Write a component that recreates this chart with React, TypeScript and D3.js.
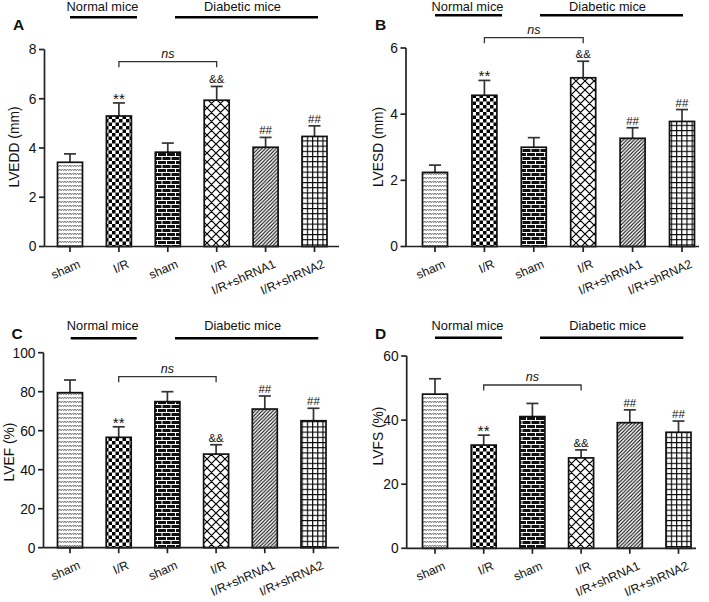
import React from "react";
import * as d3 from "d3";

const categories = ["sham", "I/R", "sham", "I/R", "I/R+shRNA1", "I/R+shRNA2"];
const marks = ["", "**", "", "&&", "##", "##"];
const groupLabels = ["Normal mice", "Diabetic mice"];

const lvedd = [3.42, 5.3, 3.83, 5.94, 4.03, 4.47];
const lveddErr = [0.34, 0.53, 0.37, 0.56, 0.4, 0.43];
const lvesd = [2.24, 4.57, 3.0, 5.1, 3.27, 3.78];
const lvesdErr = [0.22, 0.45, 0.29, 0.5, 0.32, 0.36];
const lvef = [79.5, 56.6, 74.9, 48.0, 71.1, 65.1];
const lvefErr = [6.5, 5.4, 5.1, 4.8, 6.7, 6.4];
const lvfs = [48.1, 32.2, 41.1, 28.2, 39.2, 36.2];
const lvfsErr = [4.8, 3.1, 4.1, 2.5, 4.0, 3.5];

const ticksA = [0, 2, 4, 6, 8];
const ticksB = [0, 2, 4, 6];
const ticksC = [0, 20, 40, 60, 80, 100];
const ticksD = [0, 20, 40, 60];

const FONT = "'Liberation Sans', Arial, Helvetica, sans-serif";
const patterns = ["pSham", "pCheck", "pBrick", "pDiamond", "pDiag", "pGrid"];

type Layout = {
  letter: string;
  yLabel: string;
  values: number[];
  errs: number[];
  ticks: number[];
  ymax: number;
  axisX: number;
  axisEnd: number;
  yTop: number;
  yBot: number;
  cx0: number;
  cx1: number;
  letterX: number;
  letterY: number;
  titleY: number;
  lineY: number;
  normal: [number, number];
  diabetic: [number, number];
  nsY: number;
  yLabX: number;
  yLabY: number;
};

const panels: Layout[] = [
  {
    letter: "A", yLabel: "LVEDD (mm)", values: lvedd, errs: lveddErr, ticks: ticksA, ymax: 8,
    axisX: 44.5, axisEnd: 339, yTop: 49.5, yBot: 246.5, cx0: 70, cx1: 314.5,
    letterX: 13, letterY: 29.5, titleY: 10.5, lineY: 17.3, normal: [70, 137], diabetic: [175, 318],
    nsY: 61.7, yLabX: 19, yLabY: 147,
  },
  {
    letter: "B", yLabel: "LVESD (mm)", values: lvesd, errs: lvesdErr, ticks: ticksB, ymax: 6,
    axisX: 406, axisEnd: 699, yTop: 48, yBot: 246.5, cx0: 435, cx1: 682,
    letterX: 375, letterY: 30, titleY: 10.7, lineY: 15.3, normal: [435, 502], diabetic: [540, 683],
    nsY: 37.7, yLabX: 383, yLabY: 147,
  },
  {
    letter: "C", yLabel: "LVEF (%)", values: lvef, errs: lvefErr, ticks: ticksC, ymax: 100,
    axisX: 43.5, axisEnd: 339, yTop: 352.7, yBot: 547.7, cx0: 70, cx1: 313.5,
    letterX: 11.5, letterY: 339, titleY: 330, lineY: 338.3, normal: [70.7, 136.7], diabetic: [175, 318.3],
    nsY: 376.7, yLabX: 13.5, yLabY: 452,
  },
  {
    letter: "D", yLabel: "LVFS (%)", values: lvfs, errs: lvfsErr, ticks: ticksD, ymax: 60,
    axisX: 406.7, axisEnd: 696, yTop: 356, yBot: 548.3, cx0: 435, cx1: 678.5,
    letterX: 375, letterY: 339, titleY: 330, lineY: 337.7, normal: [435, 502], diabetic: [540, 683.3],
    nsY: 385, yLabX: 383, yLabY: 436,
  },
];

const BAR_W = 25;

function Panel({ p }: { p: Layout }) {
  const y = d3.scaleLinear().domain([0, p.ymax]).range([p.yBot, p.yTop]);
  const x = d3.scalePoint<number>().domain(d3.range(categories.length)).range([p.cx0, p.cx1]);
  const ns1 = x(1)!;
  const ns3 = x(3)!;
  return (
    <g fontFamily={FONT} fill="#111">
      <text x={p.letterX} y={p.letterY} fontSize={15.5} fontWeight="bold">{p.letter}</text>
      <text x={(p.normal[0] + p.normal[1]) / 2 - 1} y={p.titleY} fontSize={12.8} textAnchor="middle">{groupLabels[0]}</text>
      <line x1={p.normal[0]} x2={p.normal[1]} y1={p.lineY} y2={p.lineY} stroke="#000" strokeWidth={2.6} />
      <text x={(p.diabetic[0] + p.diabetic[1]) / 2 - 4} y={p.titleY} fontSize={12.8} textAnchor="middle">{groupLabels[1]}</text>
      <line x1={p.diabetic[0]} x2={p.diabetic[1]} y1={p.lineY} y2={p.lineY} stroke="#000" strokeWidth={2.6} />

      {/* y axis */}
      <line x1={p.axisX} x2={p.axisX} y1={p.yTop} y2={p.yBot} stroke="#222" strokeWidth={1.7} />
      {p.ticks.map((t) => (
        <g key={t}>
          <line x1={p.axisX - 5.5} x2={p.axisX} y1={y(t)} y2={y(t)} stroke="#222" strokeWidth={1.7} />
          <text x={p.axisX - 8} y={y(t)} dy="0.36em" fontSize={13.8} textAnchor="end">{t}</text>
        </g>
      ))}
      <text transform={`translate(${p.yLabX},${p.yLabY}) rotate(-90)`} fontSize={13.8} textAnchor="middle">{p.yLabel}</text>

      {/* bars */}
      {p.values.map((v, i) => {
        const cx = x(i)!;
        const top = y(v);
        const et = y(v + p.errs[i]);
        return (
          <g key={i}>
            <line x1={cx} x2={cx} y1={top} y2={et} stroke="#333" strokeWidth={1.7} />
            <line x1={cx - 6} x2={cx + 6} y1={et} y2={et} stroke="#333" strokeWidth={1.7} />
            <rect x={cx - BAR_W / 2} y={top} width={BAR_W} height={p.yBot - top} fill={`url(#${patterns[i]})`} stroke="#111" strokeWidth={1.7} />
            {marks[i] && (
              <text x={cx} y={marks[i] === "**" ? et + 1 : et - 3} fontSize={marks[i] === "**" ? 15 : 11.5} textAnchor="middle" fill="#111">{marks[i]}</text>
            )}
          </g>
        );
      })}

      {/* x axis */}
      <line x1={p.axisX} x2={p.axisEnd} y1={p.yBot} y2={p.yBot} stroke="#222" strokeWidth={1.7} />
      {categories.map((c, i) => {
        const cx = x(i)!;
        return (
          <g key={i}>
            <line x1={cx} x2={cx} y1={p.yBot} y2={p.yBot + 5.5} stroke="#222" strokeWidth={1.7} />
            <text transform={`translate(${cx + 11},${p.yBot + 20.5}) rotate(-24)`} fontSize={12.3} textAnchor="end">{c}</text>
          </g>
        );
      })}

      {/* ns bracket */}
      <path d={`M${ns1},${p.nsY + 5.5}V${p.nsY}H${ns3}V${p.nsY + 5.5}`} fill="none" stroke="#333" strokeWidth={1.3} />
      <text x={(ns1 + ns3) / 2} y={p.nsY - 4} fontSize={12.5} fontStyle="italic" textAnchor="middle">ns</text>
    </g>
  );
}

export default function App() {
  return (
    <svg width={709} height={602} style={{ position: "absolute", left: 0, top: 0, background: "#fff" }}>
      <defs>
        <pattern id="pSham" width={5} height={4} patternUnits="userSpaceOnUse">
          <rect width={5} height={4} fill="#fff" />
          <path d="M0,1 L1.25,2.8 L2.5,1 L3.75,2.8 L5,1" fill="none" stroke="#777" strokeWidth={1} />
        </pattern>
        <pattern id="pCheck" width={7} height={7} patternUnits="userSpaceOnUse">
          <rect width={7} height={7} fill="#fff" />
          <rect width={3.5} height={3.5} fill="#000" />
          <rect x={3.5} y={3.5} width={3.5} height={3.5} fill="#000" />
        </pattern>
        <pattern id="pBrick" width={9} height={8} patternUnits="userSpaceOnUse">
          <rect width={9} height={8} fill="#111" />
          <path d="M0,0.5H9 M0,4.5H9 M4.5,0.5V4.5 M0,4.5V8 M9,4.5V8" stroke="#fff" strokeWidth={1} />
        </pattern>
        <pattern id="pDiamond" width={9} height={9} patternUnits="userSpaceOnUse">
          <rect width={9} height={9} fill="#fff" />
          <path d="M0,0L9,9 M9,0L0,9 M-1,8L1,10 M8,-1L10,1 M-1,1L1,-1 M8,10L10,8" stroke="#000" strokeWidth={1.2} />
        </pattern>
        <pattern id="pDiag" width={3.6} height={3.6} patternUnits="userSpaceOnUse">
          <rect width={3.6} height={3.6} fill="#fff" />
          <path d="M-0.9,0.9L0.9,-0.9 M0,3.6L3.6,0 M2.7,4.5L4.5,2.7" stroke="#000" strokeWidth={1.1} />
        </pattern>
        <pattern id="pGrid" width={5.2} height={5.2} patternUnits="userSpaceOnUse">
          <rect width={5.2} height={5.2} fill="#fff" />
          <path d="M0,0.6H5.2 M0.6,0V5.2" stroke="#000" strokeWidth={1.1} />
        </pattern>
      </defs>
      <rect width={709} height={602} fill="#fff" />
      {panels.map((p) => (
        <Panel key={p.letter} p={p} />
      ))}
    </svg>
  );
}
